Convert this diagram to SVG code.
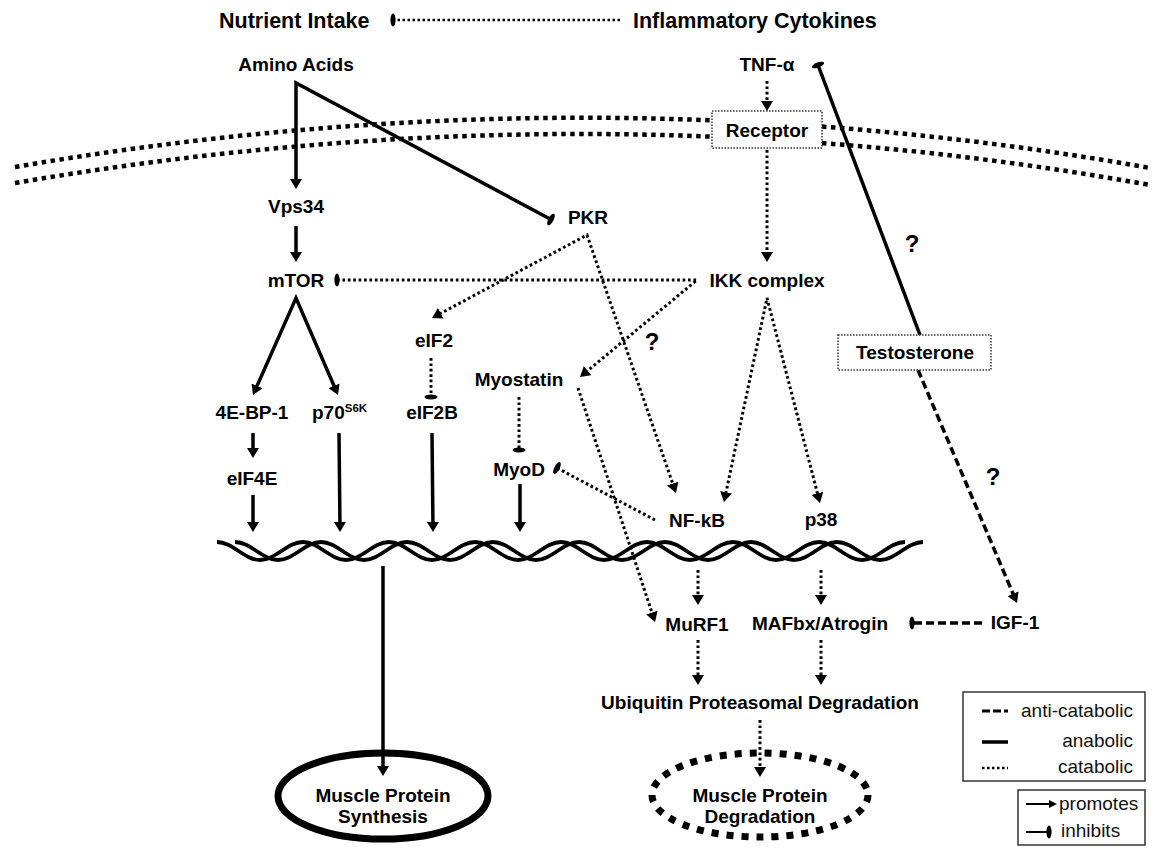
<svg xmlns="http://www.w3.org/2000/svg" width="1155" height="851" viewBox="0 0 1155 851">
<style>
.lbl{font-family:"Liberation Sans",Arial,sans-serif;font-weight:bold;font-size:19px;fill:#000;text-anchor:middle}
.ttl{font-size:21.5px;text-anchor:start}
.q{font-size:24px}
.leg{font-family:"Liberation Sans",Arial,sans-serif;font-size:19px;fill:#111}
.solid{stroke:#000;stroke-width:3.5;fill:none}
.dot{stroke:#000;stroke-width:3;stroke-dasharray:2.7 2.7;fill:none}
.dash{stroke:#000;stroke-width:3.5;stroke-dasharray:8 4;fill:none}
.mem{stroke:#000;stroke-width:4.5;stroke-dasharray:4.5 4.5;fill:none}
.box{fill:#fff;stroke:#333;stroke-width:1.5;stroke-dasharray:1.5 1.5}
.lbox{fill:none;stroke:#333;stroke-width:1.5}
.helix{stroke:#000;stroke-width:3.8;fill:none}
</style>
<defs>
<marker id="ar" viewBox="0 0 10 12" refX="7" refY="6" markerWidth="10" markerHeight="12" markerUnits="userSpaceOnUse" orient="auto"><path d="M0,0 L10,6 L0,12 Z" fill="#000"/></marker>
<marker id="arS" viewBox="0 0 10 12" refX="7" refY="6" markerWidth="10" markerHeight="12" markerUnits="userSpaceOnUse" orient="auto-start-reverse"><path d="M0,0 L10,6 L0,12 Z" fill="#000"/></marker>
<marker id="inh" viewBox="0 0 6 14" refX="3" refY="7" markerWidth="6" markerHeight="14" markerUnits="userSpaceOnUse" orient="auto"><ellipse cx="3" cy="7" rx="2.6" ry="6.5" fill="#000"/></marker>
</defs>
<rect width="1155" height="851" fill="#fff"/>

<g id="membrane">
<path class="mem" d="M 15 167 Q 590 68 1150 168"/>
<path class="mem" d="M 15 183 Q 590 84 1150 185"/>
</g>

<g id="dna">
<path class="helix" d="M 217 542 C 232.5 542 244.5 560 260 560 S 287.5 542 303 542 S 330.5 560 346 560 S 373.5 542 389 542 S 416.5 560 432 560 S 459.5 542 475 542 S 502.5 560 518 560 S 545.5 542 561 542 S 588.5 560 604 560 S 631.5 542 647 542 S 674.5 560 690 560 S 717.5 542 733 542 S 760.5 560 776 560 S 803.5 542 819 542 S 846.5 560 862 560 S 889.5 542 905 542"/>
<path class="helix" d="M 235 542 C 250.5 542 262.5 560 278 560 S 305.5 542 321 542 S 348.5 560 364 560 S 391.5 542 407 542 S 434.5 560 450 560 S 477.5 542 493 542 S 520.5 560 536 560 S 563.5 542 579 542 S 606.5 560 622 560 S 649.5 542 665 542 S 692.5 560 708 560 S 735.5 542 751 542 S 778.5 560 794 560 S 821.5 542 837 542 S 864.5 560 880 560 S 907.5 542 923 542"/>
</g>

<g id="connectors">
<path class="dot" style="stroke-width:2.5;stroke-dasharray:2.5 2.5" d="M 620 20 L 393 20" marker-end="url(#inh)"/>
<path class="solid" d="M 551 219.5 L 296 83 L 296 186" marker-start="url(#inh)" marker-end="url(#ar)"/>
<path class="solid" d="M 296 226 L 296 259" marker-end="url(#ar)"/>
<path class="solid" d="M 254.2 392.3 L 296 298 L 336.8 392.2" marker-start="url(#arS)" marker-end="url(#ar)"/>
<path class="solid" d="M 253 433 L 253 455" marker-end="url(#ar)"/>
<path class="solid" d="M 253 495 L 253 529" marker-end="url(#ar)"/>
<path class="solid" d="M 339 433 L 340 529" marker-end="url(#ar)"/>
<path class="solid" d="M 432 433 L 433 529" marker-end="url(#ar)"/>
<path class="solid" d="M 520 484 L 520 529" marker-end="url(#ar)"/>
<path class="solid" d="M 383 566 L 383 773" marker-end="url(#ar)"/>
<path class="dot" d="M 434.6 316.6 L 587 235 L 675 490.2" marker-start="url(#arS)" marker-end="url(#ar)"/>
<path class="dot" d="M 431 358 L 431 397" marker-end="url(#inh)"/>
<path class="dot" d="M 337 280 L 697 280 L 582.3 375.1" marker-start="url(#inh)" marker-end="url(#ar)"/>
<path class="dot" d="M 519 397 L 519 450" marker-end="url(#inh)"/>
<path class="dot" d="M 655 520 L 557 468" marker-end="url(#inh)"/>
<path class="dot" d="M 578 388 L 654.1 619.2" marker-end="url(#ar)"/>
<path class="dot" d="M 724.6 499.1 L 767 298 L 819.2 500.1" marker-start="url(#arS)" marker-end="url(#ar)"/>
<path class="dot" d="M 767 81 L 767 108" marker-end="url(#ar)"/>
<path class="dot" d="M 767 150 L 767 259" marker-end="url(#ar)"/>
<path class="solid" d="M 920 335 L 818 65" marker-end="url(#inh)"/>
<path class="dash" d="M 918 370 L 1015.8 600.2" marker-end="url(#ar)"/>
<path class="dash" d="M 982 623 L 912 623" marker-end="url(#inh)"/>
<path class="dot" d="M 698 570 L 698 602" marker-end="url(#ar)"/>
<path class="dot" d="M 821 570 L 821 602" marker-end="url(#ar)"/>
<path class="dot" d="M 698 640 L 698 682" marker-end="url(#ar)"/>
<path class="dot" d="M 821 640 L 821 682" marker-end="url(#ar)"/>
<path class="dot" d="M 760 720 L 760 774" marker-end="url(#ar)"/>
</g>

<g id="nutrient-intake"><text class="lbl ttl" x="219" y="28">Nutrient Intake</text></g>
<g id="inflammatory-cytokines"><text class="lbl ttl" x="633" y="28">Inflammatory Cytokines</text></g>
<g id="amino-acids"><text class="lbl" x="296" y="71">Amino Acids</text></g>
<g id="tnf-alpha"><text class="lbl" x="767" y="71">TNF-α</text></g>
<g id="receptor"><rect class="box" x="712" y="111" width="110" height="37"/><text class="lbl" x="767" y="137">Receptor</text></g>
<g id="vps34"><text class="lbl" x="296" y="213">Vps34</text></g>
<g id="pkr"><text class="lbl" x="588" y="224">PKR</text></g>
<g id="mtor"><text class="lbl" x="296" y="287">mTOR</text></g>
<g id="ikk-complex"><text class="lbl" x="767" y="287">IKK complex</text></g>
<g id="eif2"><text class="lbl" x="434" y="347">eIF2</text></g>
<g id="myostatin"><text class="lbl" x="519" y="386">Myostatin</text></g>
<g id="testosterone"><rect class="box" x="838" y="335" width="153" height="35"/><text class="lbl" x="915" y="359">Testosterone</text></g>
<g id="4e-bp-1"><text class="lbl" x="252" y="419">4E-BP-1</text></g>
<g id="p70s6k"><text class="lbl" x="312" y="419" style="text-anchor:start">p70<tspan font-size="11.5" dy="-7">S6K</tspan></text></g>
<g id="eif2b"><text class="lbl" x="432" y="419">eIF2B</text></g>
<g id="eif4e"><text class="lbl" x="252" y="485">eIF4E</text></g>
<g id="myod"><text class="lbl" x="519" y="476">MyoD</text></g>
<g id="nf-kb"><text class="lbl" x="697" y="527">NF-kB</text></g>
<g id="p38"><text class="lbl" x="821" y="526">p38</text></g>
<g id="murf1"><text class="lbl" x="697" y="631">MuRF1</text></g>
<g id="mafbx-atrogin"><text class="lbl" x="820" y="630">MAFbx/Atrogin</text></g>
<g id="igf-1"><text class="lbl" x="1015" y="629">IGF-1</text></g>
<g id="ubiquitin"><text class="lbl" x="760" y="709">Ubiquitin Proteasomal Degradation</text></g>
<g id="muscle-protein-synthesis"><ellipse cx="383" cy="796" rx="105" ry="43" fill="none" stroke="#000" stroke-width="7"/><text class="lbl" x="383" y="802">Muscle Protein</text><text class="lbl" x="383" y="823">Synthesis</text></g>
<g id="muscle-protein-degradation"><ellipse cx="760" cy="795" rx="108" ry="42" fill="none" stroke="#000" stroke-width="7" stroke-dasharray="7 8"/><text class="lbl" x="760" y="802">Muscle Protein</text><text class="lbl" x="760" y="823">Degradation</text></g>
<g id="question-marks"><text class="lbl q" x="652" y="350">?</text><text class="lbl q" x="912" y="252">?</text><text class="lbl q" x="993" y="485">?</text></g>

<g id="legend">
<rect class="lbox" x="963" y="692" width="182" height="89"/>
<line x1="982" y1="711" x2="1008" y2="711" stroke="#000" stroke-width="3" stroke-dasharray="8 3"/>
<text class="leg" x="1133" y="717" text-anchor="end">anti-catabolic</text>
<line x1="982" y1="742" x2="1008" y2="742" stroke="#000" stroke-width="3.5"/>
<text class="leg" x="1133" y="747" text-anchor="end">anabolic</text>
<line x1="982" y1="768" x2="1008" y2="768" stroke="#000" stroke-width="2.5" stroke-dasharray="2.5 2.5"/>
<text class="leg" x="1133" y="773" text-anchor="end">catabolic</text>
<rect class="lbox" x="1018" y="790" width="127" height="55"/>
<line x1="1026" y1="804" x2="1050" y2="804" stroke="#000" stroke-width="2"/>
<path d="M1049,800 L1057,804 L1049,808 Z" fill="#000"/>
<text class="leg" x="1059" y="810">promotes</text>
<line x1="1026" y1="832" x2="1047" y2="832" stroke="#000" stroke-width="2"/>
<ellipse cx="1049" cy="832" rx="2.6" ry="6.5" fill="#000"/>
<text class="leg" x="1061" y="837">inhibits</text>
</g>
</svg>
